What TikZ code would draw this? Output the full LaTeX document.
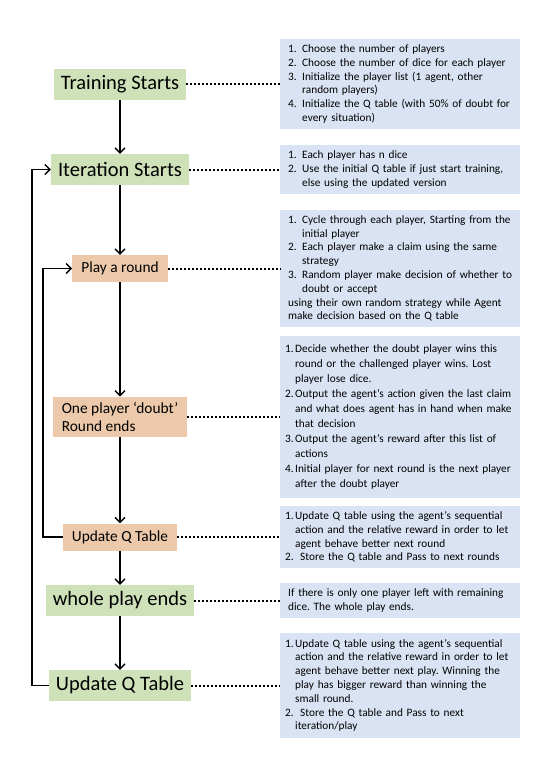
\documentclass[tikz,border=0pt]{standalone}
\usepackage{fontspec}
\setmainfont{Carlito}
\usetikzlibrary{arrows.meta}
\frenchspacing

\begin{document}
\begin{tikzpicture}
[x = 1pt, y = -1pt,
 phasebox/.style = {fill = phasecolor, inner sep = 0pt, inner xsep = 7pt, minimum height = 31pt,
   font = \fontsize{20.5}{22}\selectfont},
 roundbox/.style = {fill = roundcolor, inner sep = 0pt, inner xsep = 9pt, inner ysep = 6pt, minimum height = 27pt,
   font = \fontsize{15.4}{17.3}\selectfont},
 notebox/.style  = {fill = notecolor, anchor = west, text width = 224pt, align = left,
   inner xsep = 8pt, inner ysep = 6pt, font = \fontsize{11.3}{13.8}\selectfont},
 tightbox/.style = {notebox, text width = 230pt, inner xsep = 5pt},
 flowarrow/.style = {-{Straight Barb[length=5pt,width=10pt]}, line width = 1.4pt},
 dotlink/.style   = {line width = 2pt, dash pattern = on 2pt off 2pt},
]

% Define box colors
\definecolor{phasecolor}{RGB}{207,225,185}
\definecolor{roundcolor}{RGB}{236,201,170}
\definecolor{notecolor}{RGB}{218,227,243}

\newcommand{\lnum}[1]{\makebox[14pt][l]{#1}}
\newcommand{\lind}{\hspace*{14pt}}
\newcommand{\tnum}[1]{\makebox[10pt][l]{#1}}
\newcommand{\tind}{\hspace*{10pt}}

\useasboundingbox (0,0) rectangle (540,780);

%%%%%%%%%%% MAIN FLOW
\node[phasebox] (train)   at (120,84)    {Training Starts};
\node[phasebox] (iter)    at (120,169.5) {Iteration Starts};
\node[roundbox] (play)    at (120,268.5) {Play a round};
\node[roundbox, align = left] (doubt) at (120,417) {One player ‘doubt’\\Round ends};
\node[roundbox] (rupdate) at (120,537)   {Update Q Table};
\node[phasebox] (whole)   at (120,600.5) {whole play ends};
\node[phasebox] (qupdate) at (120,685.5) {Update Q Table};

%%%%%%%%%%% NOTES
\coordinate (notes) at (280,0);

\node[notebox] (trainnote) at (notes |- train)
  {\lnum{1.}Choose the number of players\\
   \lnum{2.}Choose the number of dice for each player\\
   \lnum{3.}Initialize the player list (1 agent, other\\
   \lind random players)\\
   \lnum{4.}Initialize the Q table (with 50\% of doubt for\\
   \lind every situation)};

\node[notebox] (iternote) at (notes |- iter)
  {\lnum{1.}Each player has n dice\\
   \lnum{2.}Use the initial Q table if just start training,\\
   \lind else using the updated version};

\node[notebox] (playnote) at (notes |- play)
  {\lnum{1.}Cycle through each player, Starting from the\\
   \lind initial player\\
   \lnum{2.}Each player make a claim using the same\\
   \lind strategy\\
   \lnum{3.}Random player make decision of whether to\\
   \lind doubt or accept\\
   using their own random strategy while Agent\\
   make decision based on the Q table};

\node[tightbox, inner ysep = 9pt, font = \fontsize{11.3}{15}\selectfont] (doubtnote) at (notes |- doubt)
  {\tnum{1.}Decide whether the doubt player wins this\\
   \tind round or the challenged player wins. Lost\\
   \tind player lose dice.\\
   \tnum{2.}Output the agent’s action given the last claim\\
   \tind and what does agent has in hand when make\\
   \tind that decision\\
   \tnum{3.}Output the agent’s reward after this list of\\
   \tind actions\\
   \tnum{4.}Initial player for next round is the next player\\
   \tind after the doubt player};

\node[tightbox] (rupdatenote) at (notes |- rupdate)
  {\tnum{1.}Update Q table using the agent’s sequential\\
   \tind action and the relative reward in order to let\\
   \tind agent behave better next round\\
   \makebox[15pt][l]{2.}Store the Q table and Pass to next rounds};

\node[notebox] (wholenote) at (notes |- whole)
  {If there is only one player left with remaining\\
   dice. The whole play ends.};

\node[tightbox] (qupdatenote) at (notes |- qupdate)
  {\tnum{1.}Update Q table using the agent’s sequential\\
   \tind action and the relative reward in order to let\\
   \tind agent behave better next play. Winning the\\
   \tind play has bigger reward than winning the\\
   \tind small round.\\
   \makebox[15pt][l]{2.}Store the Q table and Pass to next\\
   \tind iteration/play};

%%%%%%%%%%% ARROWS
\draw[flowarrow] (train)   -- (iter);
\draw[flowarrow] (iter)    -- (play);
\draw[flowarrow] (play)    -- (doubt);
\draw[flowarrow] (doubt)   -- (rupdate);
\draw[flowarrow] (rupdate) -- (whole);
\draw[flowarrow] (whole)   -- (qupdate);

% loops back
\draw[flowarrow] (rupdate.west) -- (43,0 |- rupdate) |- (play.west);
\draw[flowarrow] (qupdate.west) -- (32,0 |- qupdate) |- (iter.west);

%%%%%%%%%%% DOTTED LINKS
\foreach \n in {train, iter, play, doubt, rupdate, whole, qupdate}
  \draw[dotlink] (\n.east) -- (\n note.west);

\end{tikzpicture}
\end{document}
